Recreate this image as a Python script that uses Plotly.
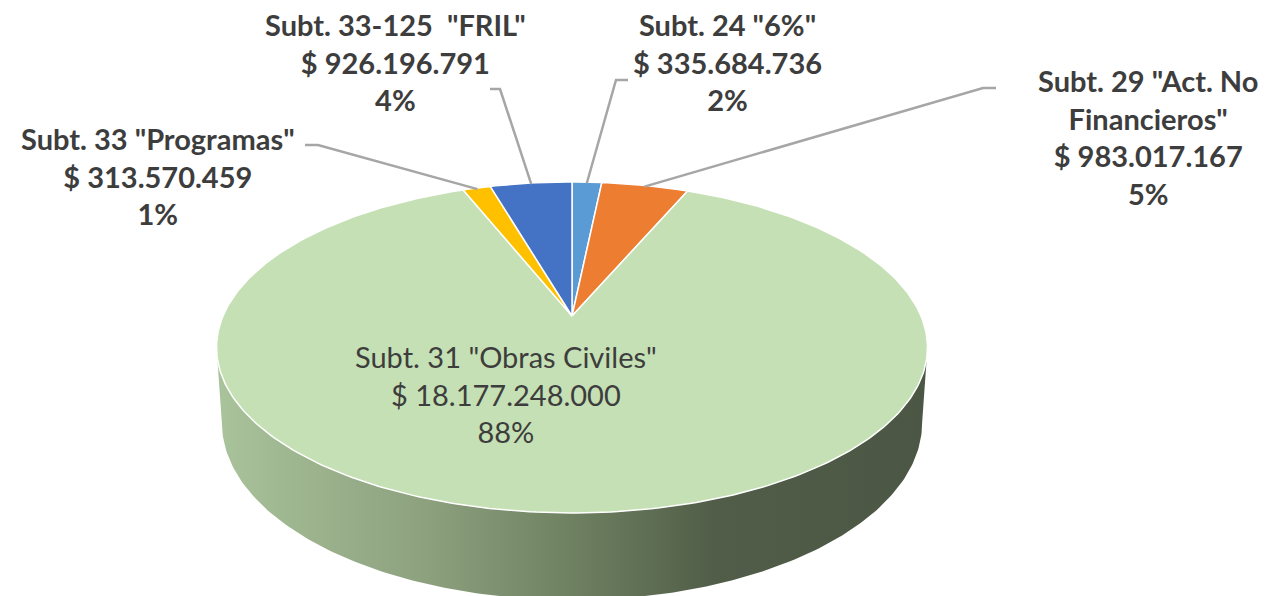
import textwrap
import numpy as np
import plotly.graph_objects as go

# ---------------- data ----------------
categories = [
    'Subt. 24 "6%"',
    'Subt. 29 "Act. No Financieros"',
    'Subt. 31 "Obras Civiles"',
    'Subt. 33 "Programas"',
    'Subt. 33-125  "FRIL"',
]
amounts = [335684736, 983017167, 18177248000, 313570459, 926196791]
pct_labels = ["2%", "5%", "88%", "1%", "4%"]

# ---------------- style ----------------
colors = ["#5B9BD5", "#ED7D31", "#C5E0B4", "#FFC000", "#4472C4"]
side_scale = [[0.0, "#a9c39b"], [0.3, "#8ca07e"], [0.5, "#6e8161"],
              [0.7, "#515d48"], [1.0, "#4b5744"]]
text_color = "#3d3d3d"
leader_color = "#A6A6A6"
FONT = "Lato"

# perspective geometry of the pie (screen pixels)
W, H = 1270, 596
X0, Y0 = 572, 316          # projected pie centre
A, B, K = 349, 159.5, 0.19  # radii and perspective factor
DEPTH, SHRINK = 90, 0.985

# label block centres and leader line start / elbow (screen pixels)
label_pos = {0: (727, 62), 1: (1148, 137), 2: (506, 394), 3: (158, 176), 4: (395, 62)}
leader_pts = {0: ((628, 80), (616, 80)), 1: ((996, 88), (983, 88)),
              3: ((305, 145), (318, 145)), 4: ((490, 89), (500, 89))}


def project(theta, r=1.0, bottom=False):
    theta = np.asarray(theta, dtype=float)
    u = r * np.sin(theta)
    v = r * np.cos(theta)
    den = 1 + K * v
    s = SHRINK if bottom else 1.0
    x = X0 + A * s * u / den
    y = Y0 - B * s * v / den
    if bottom:
        y = y + DEPTH * (1 - K) / den
    return x, y


vals = np.array(amounts, dtype=float)
frac = vals / vals.sum()
cum = np.concatenate([[0], np.cumsum(frac)])

fig = go.Figure()

# side band (visible front part of the cylinder)
t_r = np.arccos(-K)
t_l = 2 * np.pi - t_r
ts = np.linspace(t_r, t_l, 200)
xt, yt = project(ts)
xb, yb = project(ts[::-1], bottom=True)
fig.add_trace(go.Scatter(
    x=np.concatenate([xt, xb, xt[:1]]), y=np.concatenate([yt, yb, yt[:1]]),
    mode="lines", fill="toself", line=dict(width=0),
    fillgradient=dict(type="horizontal", colorscale=side_scale),
    hoverinfo="skip", showlegend=False))

# top-face slices
for i, name in enumerate(categories):
    t0, t1 = cum[i] * 2 * np.pi, cum[i + 1] * 2 * np.pi
    n = max(8, int((t1 - t0) / (2 * np.pi) * 400))
    tt = np.linspace(t0, t1, n)
    xa, ya = project(tt)
    fig.add_trace(go.Scatter(
        x=np.concatenate([[X0], xa, [X0]]), y=np.concatenate([[Y0], ya, [Y0]]),
        mode="lines", fill="toself", fillcolor=colors[i],
        line=dict(color="white", width=1.5),
        name=name, hoverinfo="skip", showlegend=False))

# leader lines
for i, (start, elbow) in leader_pts.items():
    mid = (cum[i] + cum[i + 1]) * np.pi
    ax, ay = project(mid, r=0.99)
    fig.add_trace(go.Scatter(
        x=[start[0], elbow[0], float(ax)], y=[start[1], elbow[1], float(ay)],
        mode="lines", line=dict(color=leader_color, width=2.5),
        hoverinfo="skip", showlegend=False))

# labels
for i, name in enumerate(categories):
    amount_txt = "$ " + f"{amounts[i]:,}".replace(",", ".")
    inside = i == 2
    nm = name if inside else "<br>".join(textwrap.wrap(name, 21))
    txt = f"{nm}<br>{amount_txt}<br>{pct_labels[i]}"
    if not inside:
        txt = "<b>" + txt.replace("<br>", "</b><br><b>") + "</b>"
    x, y = label_pos[i]
    fig.add_annotation(
        x=x, y=y, xref="x", yref="y", text=txt, showarrow=False,
        xanchor="center", yanchor="middle", align="center",
        font=dict(family=FONT, size=29, color=text_color))

fig.update_layout(
    width=W, height=H, margin=dict(l=0, r=0, t=0, b=0),
    paper_bgcolor="white", plot_bgcolor="white",
    xaxis=dict(range=[0, W], visible=False, fixedrange=True),
    yaxis=dict(range=[H, 0], visible=False, fixedrange=True),
    showlegend=False)

fig.write_html("out.html", config={"displayModeBar": False},
               post_script="document.body.style.margin='0';document.body.style.overflow='hidden';")
